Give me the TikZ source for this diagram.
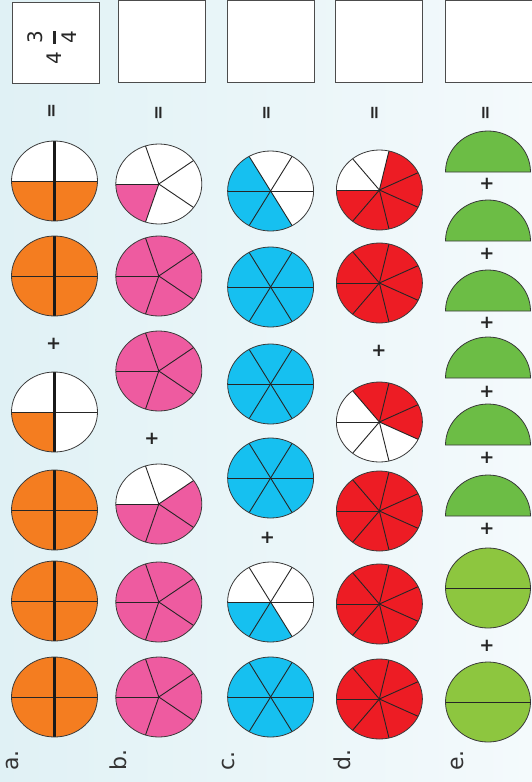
\documentclass[tikz,border=0pt]{standalone}
\usepackage{fontspec}
\setmainfont{DejaVu Sans}
\definecolor{orng}{HTML}{F47D20}
\definecolor{pnk}{HTML}{EE5BA0}
\definecolor{cyn}{HTML}{16C0F0}
\definecolor{rd}{HTML}{ED1C24}
\definecolor{grnA}{HTML}{6CBD45}
\definecolor{grnB}{HTML}{8DC63F}
\definecolor{edge}{HTML}{3A3A3A}
\definecolor{bgL}{HTML}{E0F1F5}
\definecolor{bgR}{HTML}{F4FAFC}
\tikzset{
  rim/.style={draw=edge, line width=0.8pt},
  spoke/.style={draw=black!85, line width=0.9pt},
  thickspoke/.style={draw=black!90, line width=2.2pt},
  op/.style={font=\fontsize{18}{18}\selectfont\bfseries, text=black!85, inner sep=0pt},
  eqsign/.style={font=\fontsize{18}{18}\selectfont\bfseries, text=black!85, inner sep=0pt, rotate=90},
  lbl/.style={font=\fontsize{22}{22}\selectfont, text=black!80, rotate=90, inner sep=0pt, anchor=base west},
  digit/.style={font=\fontsize{20}{20}\selectfont, text=black!85, rotate=90, inner sep=0pt},
  answer/.style={draw=black!70, line width=1pt, fill=white},
  halfdisc/.style={fill=grnA, draw=edge, line width=0.8pt},
  fulldisc/.style={fill=grnB, draw=edge, line width=0.8pt},
}
% #1 name, #2 x, #3 y, #4 colour, #5 start angle, #6 end angle
\newcommand{\fracpie}[6]{%
  \coordinate (#1) at (#2,#3);
  \fill[white] (#1) ellipse [x radius=43, y radius=40];
  \fill[#4] (#1) -- ++(#5:43 and 40) arc[start angle=#5, end angle=#6, x radius=43, y radius=40] -- cycle;
}
\newcommand{\spokes}[2]{\foreach \a in {#2} {\draw[spoke] (#1) -- ++(\a:43 and 40);}}
\newcommand{\rimof}[1]{\draw[rim] (#1) ellipse [x radius=43, y radius=40];}
\newcommand{\quarters}[1]{%
  \draw[spoke] (#1) ++(180:43 and 40) -- ++(86,0);
  \draw[thickspoke] (#1) ++(90:43 and 40) -- ++(0,-80);
  \rimof{#1}}
\newcommand{\fifths}[1]{\spokes{#1}{180,108,36,-36,-108}\rimof{#1}}
\newcommand{\sixths}[1]{\spokes{#1}{0,60,120,180,240,300}\rimof{#1}}
\newcommand{\sevenths}[1]{\spokes{#1}{180,128.57,77.14,25.71,-25.71,-77.14,-128.57}\rimof{#1}}
\newcommand{\half}[3]{%
  \coordinate (#1) at (#2,#3);
  \draw[halfdisc] (#2-42.5,#3) arc[start angle=180, end angle=0, x radius=42.5, y radius=41] -- cycle;}
\newcommand{\whole}[3]{%
  \coordinate (#1) at (#2,#3);
  \draw[fulldisc] (#1) ellipse [x radius=42.5, y radius=40];
  \draw[spoke] (#2-42.5,#3) -- (#2+42.5,#3);}
\begin{document}
\begin{tikzpicture}[x=1pt,y=1pt]
\useasboundingbox (0,0) rectangle (532,-782);
\shade[left color=bgL, right color=bgR] (0,0) rectangle (532,-782);

% answer boxes
\node[answer, minimum width=87pt, minimum height=81.5pt, anchor=north west] (boxa) at (12,-1.7) {};
\node[answer, minimum width=87pt, minimum height=82pt, anchor=north west] (boxb) at (118,0.5) {};
\node[answer, minimum width=87pt, minimum height=82pt, anchor=north west] (boxc) at (226.7,0.5) {};
\node[answer, minimum width=87pt, minimum height=82pt, anchor=north west] (boxd) at (335.3,0.5) {};
\node[answer, minimum width=87pt, minimum height=82pt, anchor=north west] (boxe) at (445,0.5) {};

% mixed number 4 3/4 (rotated)
\node[digit] (num) at (35.5,-37) {3};
\fill[black!85] (52.7,-30.5) rectangle (55.5,-43.5);
\node[digit] (den) at (69.5,-37.5) {4};
\node[digit] (whl) at (54,-58) {4};

% equals signs
\node[eqsign] (eqa) at (53.6,-110.5) {=};
\node[eqsign] (eqb) at (160,-113) {=};
\node[eqsign] (eqc) at (268,-113) {=};
\node[eqsign] (eqd) at (376.6,-113) {=};
\node[eqsign] (eqe) at (487,-113) {=};

% column a : quarters
\fracpie{a1}{54.5}{-181}{orng}{180}{360}\quarters{a1}
\fracpie{a2}{54.5}{-276}{orng}{0}{360}\quarters{a2}
\fracpie{a3}{54.5}{-412}{orng}{180}{270}\quarters{a3}
\fracpie{a4}{54.5}{-510}{orng}{0}{360}\quarters{a4}
\fracpie{a5}{54.5}{-601}{orng}{0}{360}\quarters{a5}
\fracpie{a6}{54.5}{-697}{orng}{0}{360}\quarters{a6}
\node[op] (pa) at (53.6,-343.5) {+};

% column b : fifths
\fracpie{b1}{158.8}{-184}{pnk}{180}{252}\fifths{b1}
\fracpie{b2}{158.8}{-276}{pnk}{0}{360}\fifths{b2}
\fracpie{b3}{158.8}{-371}{pnk}{0}{360}\fifths{b3}
\fracpie{b4}{158.8}{-504}{pnk}{180}{396}\fifths{b4}
\fracpie{b5}{158.8}{-602}{pnk}{0}{360}\fifths{b5}
\fracpie{b6}{158.8}{-697}{pnk}{0}{360}\fifths{b6}
\node[op] (pb) at (152,-439) {+};

% column c : sixths
\fracpie{c1}{270.6}{-191}{cyn}{120}{300}\sixths{c1}
\fracpie{c2}{270.6}{-287}{cyn}{0}{360}\sixths{c2}
\fracpie{c3}{270.6}{-384}{cyn}{0}{360}\sixths{c3}
\fracpie{c4}{270.6}{-478}{cyn}{0}{360}\sixths{c4}
\fracpie{c5}{270.6}{-602}{cyn}{180}{300}\sixths{c5}
\fracpie{c6}{270.6}{-697}{cyn}{0}{360}\sixths{c6}
\node[op] (pc) at (267.4,-538) {+};

% column d : sevenths
\fracpie{d1}{379.4}{-190}{rd}{180}{437.14}\sevenths{d1}
\fracpie{d2}{379.4}{-283}{rd}{0}{360}\sevenths{d2}
\fracpie{d3}{379.4}{-422}{rd}{-25.71}{128.57}\sevenths{d3}
\fracpie{d4}{379.4}{-511}{rd}{0}{360}\sevenths{d4}
\fracpie{d5}{379.4}{-604}{rd}{0}{360}\sevenths{d5}
\fracpie{d6}{379.4}{-699}{rd}{0}{360}\sevenths{d6}
\node[op] (pd) at (379,-351) {+};

% column e : halves
\half{e1}{488}{-172}
\node[op] (pe1) at (487,-184) {+};
\half{e2}{488}{-241}
\node[op] (pe2) at (487,-254) {+};
\half{e3}{488}{-311}
\node[op] (pe3) at (487,-323) {+};
\half{e4}{488}{-378}
\node[op] (pe4) at (487,-392) {+};
\half{e5}{488}{-445}
\node[op] (pe5) at (487,-458) {+};
\half{e6}{488}{-516}
\node[op] (pe6) at (487,-529) {+};
\whole{e7}{488}{-588}
\node[op] (pe7) at (487,-646) {+};
\whole{e8}{488}{-702}

% row labels
\node[lbl] (la) at (18.5,-771) {a.};
\node[lbl] (lb) at (126,-771) {b.};
\node[lbl] (lc) at (234,-771) {c.};
\node[lbl] (ld) at (350,-771) {d.};
\node[lbl] (le) at (463,-771) {e.};
\end{tikzpicture}
\end{document}
